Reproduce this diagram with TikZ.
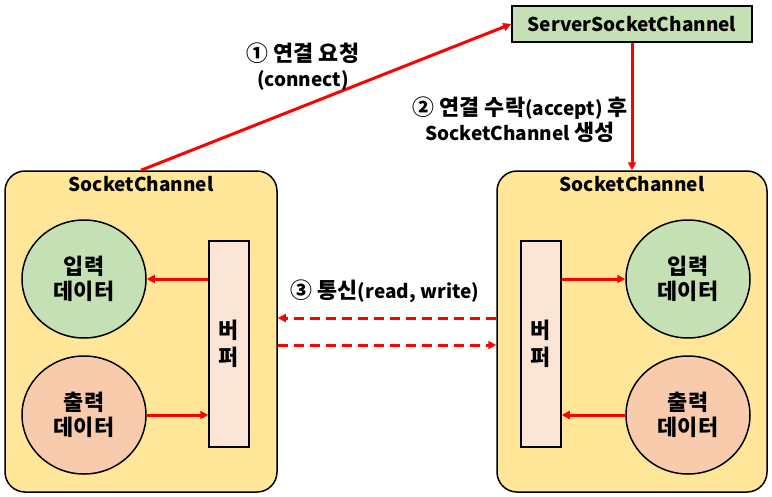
\documentclass[tikz,border=0pt]{standalone}
\usepackage{fontspec}
\setmainfont{Noto Sans CJK KR}
\newfontfamily\kr{Noto Sans CJK KR}[Scale=1.15]
\usepackage{xcolor}
\usetikzlibrary{arrows.meta,
	positioning,
	shapes.geometric}

\definecolor{srvgreen}{HTML}{C5E0B4}
\definecolor{chanyellow}{HTML}{FFE699}
\definecolor{outorange}{HTML}{F8CBAD}
\definecolor{bufpink}{HTML}{FBE5D6}

\begin{document}
\begin{tikzpicture}[x=1pt, y=-1pt, font=\fontsize{19}{25}\selectfont\bfseries,
	chanbox/.style={draw, line width=1.5pt, rounded corners=20pt, fill=chanyellow, minimum height=321pt},
	srvbox/.style={draw, line width=1.5pt, fill=srvgreen, minimum width=240pt, minimum height=36pt},
	datacircle/.style={draw, ellipse, line width=1.5pt, minimum width=124pt, minimum height=118pt, align=center, font=\fontsize{19}{25}\selectfont\bfseries\kr},
	bufbox/.style={draw, line width=1.5pt, fill=bufpink, minimum width=40pt, minimum height=206pt, align=center, font=\fontsize{19}{27}\selectfont\bfseries\kr},
	redline/.style={draw=red, line width=3pt, -{Triangle[length=8pt, width=8pt]}},
	reddash/.style={redline, dash pattern=on 10pt off 6pt}]
                            \useasboundingbox (0,0) rectangle (772,496);
                            % server side
                            \node (server) [srvbox] at (632,24) {ServerSocketChannel};
                            % the two channels
                            \node (leftch) [chanbox, minimum width=272pt] at (141,331.5) {};
                            \node (rightch) [chanbox, minimum width=270pt] at (632,331.5) {};
                            \node (lefttitle) [below=3pt of leftch.north] {SocketChannel};
                            \node (righttitle) [below=3pt of rightch.north] {SocketChannel};
                            % left channel
                            \node (lin) [datacircle, fill=srvgreen] at (84,279) {입력\\데이터};
                            \node (lout) [datacircle, fill=outorange] at (84,415) {출력\\데이터};
                            \node (lbuf) [bufbox] at (229,344) {버\\퍼};
                            % right channel
                            \node (rin) [datacircle, fill=srvgreen] at (688,279) {입력\\데이터};
                            \node (rout) [datacircle, fill=outorange] at (688,415) {출력\\데이터};
                            \node (rbuf) [bufbox] at (541,344) {버\\퍼};
                            % arrows
                            \draw [redline] (lbuf.west |- lin.east) -- (lin.east);
                            \draw [redline] (lout.east) -- (lbuf.west |- lout.east);
                            \draw [redline] (rbuf.east |- rin.west) -- (rin.west);
                            \draw [redline] (rout.west) -- (rbuf.east |- rout.west);
                            \draw [redline] (leftch.north) -- (server.west);
                            \draw [redline] (server.south) -- (rightch.north);
                            \draw [reddash] (rightch.west |- 0,318) -- (leftch.east |- 0,318);
                            \draw [reddash] (leftch.east |- 0,345) -- (rightch.west |- 0,345);
                            % labels
                            \node (reqlabel) [align=center] at (303,67) {{\kr ① 연결 요청}\\(connect)};
                            \node (acclabel) [align=center] at (520,120) {{\kr ② 연결 수락}(accept) {\kr 후}\\SocketChannel {\kr 생성}};
                            \node (commlabel) at (385,291) {{\kr ③ 통신}(read, write)};
                        \end{tikzpicture}
\end{document}
